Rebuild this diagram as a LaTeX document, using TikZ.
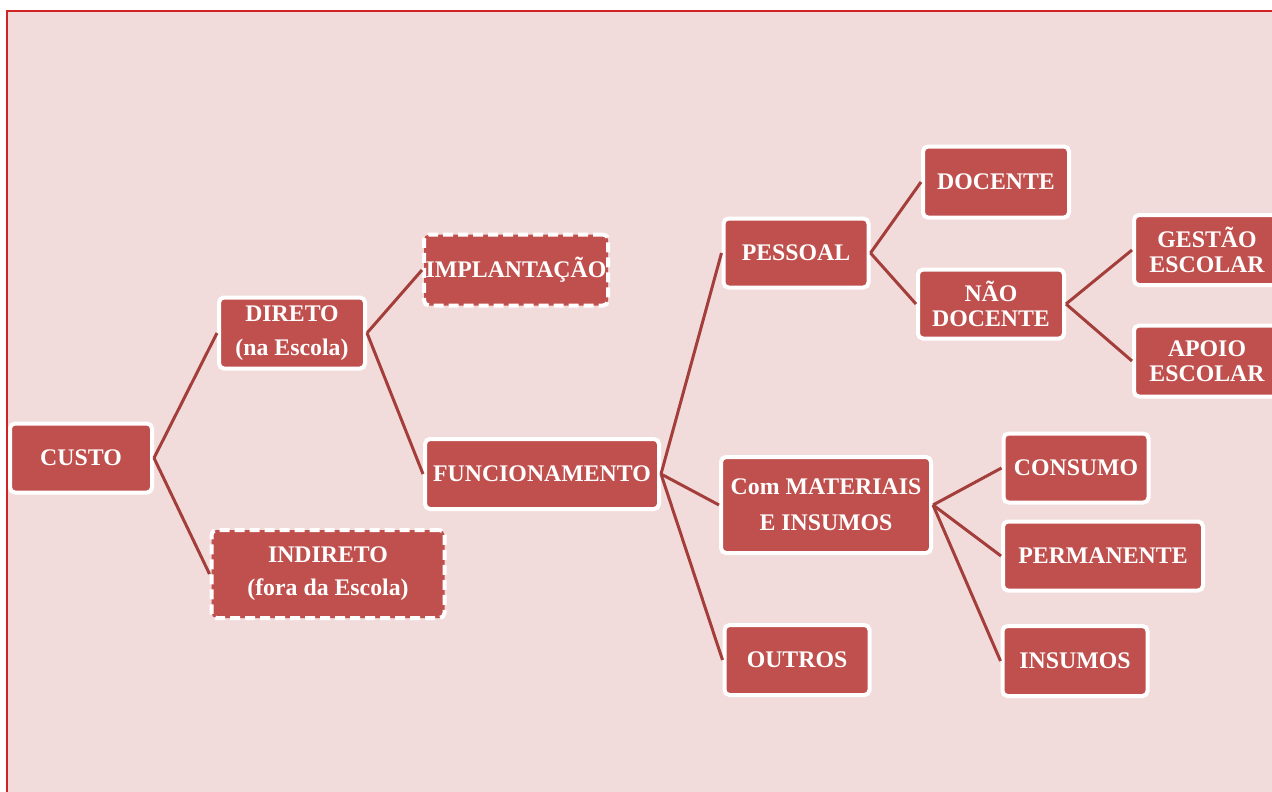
\documentclass[tikz,border=0pt]{standalone}
\usepackage{fontspec}
\setmainfont{Liberation Serif}
\usetikzlibrary{backgrounds, positioning}
\definecolor{boxred}{RGB}{192,80,77}
\definecolor{linkred}{RGB}{163,62,59}
\definecolor{bgpink}{RGB}{242,220,219}
\definecolor{framered}{RGB}{208,36,36}

\begin{document}
\begin{tikzpicture}[x=1pt, y=-1pt,
  costbox/.style={rectangle, rounded corners=5pt, draw=white, line width=4pt, fill=boxred, text=white, font=\fontsize{23.8}{26}\selectfont\bfseries, align=center, inner sep=0pt},
  dashbox/.style={costbox, dash pattern=on 10pt off 5pt},
  link/.style={line width=3pt, color=linkred}]
\clip (0,0) rectangle (1272,792);
\fill[white] (0,0) rectangle (1272,792);
\draw[framered, fill=bgpink, line width=2pt] (6.5,11.5) rectangle (1290,810);

\node[costbox, minimum width=142, minimum height=69] at (81, 458) (custo) {CUSTO};
\node[costbox, minimum width=146, minimum height=71] at (292, 333) (direto) {DIRETO\\[8pt](na Escola)};
\draw[link] (custo.east) -- (direto.west);
\node[dashbox, minimum width=233, minimum height=88] at (328, 574) (indireto) {INDIRETO\\[7pt](fora da Escola)};
\draw[link] (custo.east) -- (indireto.west);
\node[dashbox, minimum width=184, minimum height=71] at (516, 270) (implant) {IMPLANTAÇÃO};
\draw[link] (direto.east) -- (implant.west);
\node[costbox, minimum width=234, minimum height=70] at (542, 474) (funcion) {FUNCIONAMENTO};
\draw[link] (direto.east) -- (funcion.west);

\node[costbox, minimum width=145, minimum height=69] at (796, 253) (pessoal) {PESSOAL};
\draw[link] (funcion.east) -- (pessoal.west);
\node[costbox, minimum width=210, minimum height=96] at (826, 505) (material) {Com MATERIAIS\\[10pt]E INSUMOS};
\draw[link] (funcion.east) -- (material.west);
\node[costbox, minimum width=145, minimum height=70] at (797, 660) (outros) {OUTROS};
\draw[link] (funcion.east) -- (outros.west);

\node[costbox, minimum width=146, minimum height=71] at (996, 182) (docente) {DOCENTE};
\draw[link] (pessoal.east) -- (docente.west);
\node[costbox, minimum width=146, minimum height=69] at (991, 304) (naodoc) {NÃO\\[-1pt]DOCENTE};
\draw[link] (pessoal.east) -- (naodoc.west);
\node[costbox, minimum width=146, minimum height=70] at (1207, 250) (gestao) {GESTÃO\\[-1pt]ESCOLAR};
\draw[link] (naodoc.east) -- (gestao.west);
\node[costbox, minimum width=146, minimum height=71] at (1207, 361) (apoio) {APOIO\\[-1pt]ESCOLAR};
\draw[link] (naodoc.east) -- (apoio.west);

\node[costbox, minimum width=145, minimum height=69] at (1076, 468) (consumo) {CONSUMO};
\draw[link] (material.east) -- (consumo.west);
\node[costbox, minimum width=200, minimum height=69] at (1103, 556) (perman) {PERMANENTE};
\draw[link] (material.east) -- (perman.west);
\node[costbox, minimum width=145, minimum height=70] at (1075, 661) (insumos) {INSUMOS};
\draw[link] (material.east) -- (insumos.west);
\end{tikzpicture}
\end{document}
